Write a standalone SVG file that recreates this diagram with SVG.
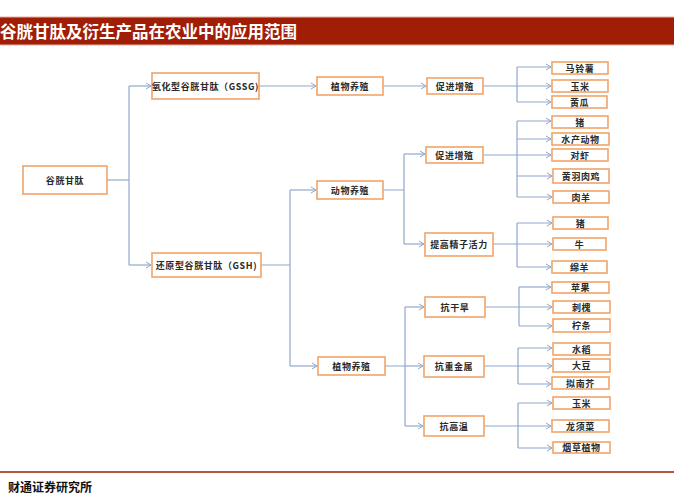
<svg xmlns="http://www.w3.org/2000/svg" width="674" height="496" viewBox="0 0 674 496">
<defs>
<marker id="ah" markerWidth="8" markerHeight="8" refX="6" refY="4" orient="auto" markerUnits="userSpaceOnUse">
<path d="M1,1 L6,4 L1,7" fill="none" stroke="#8FA8CC" stroke-width="1"/>
</marker>
<style>
.b{fill:#fff;stroke:#F2A468;stroke-width:1.6}
.t{font-family:"Noto Sans CJK SC","Noto Sans",sans-serif;font-size:9px;fill:#2a2a2a;text-anchor:middle;dominant-baseline:central;font-weight:bold;letter-spacing:0.6px}
.c{fill:none;stroke:#8FA8CC;stroke-width:1.2}
.a{marker-end:url(#ah)}
</style>
</defs>
<rect x="0" y="0" width="674" height="496" fill="#fff"/>
<rect x="0" y="17" width="674" height="28" fill="#A11E06"/>
<line x1="0" y1="17" x2="674" y2="17" stroke="#E8B0A0" stroke-width="1"/>
<line x1="0" y1="45" x2="674" y2="45" stroke="#E8B0A0" stroke-width="1"/>
<text x="0" y="31" font-family="'Noto Sans CJK SC',sans-serif" font-size="16.5" font-weight="bold" fill="#fff" dominant-baseline="central">谷胱甘肽及衍生产品在农业中的应用范围</text>
<line x1="0" y1="472" x2="674" y2="472" stroke="#A11E06" stroke-width="1.5"/>
<text x="8" y="486" font-family="'Noto Sans CJK SC',sans-serif" font-size="12" font-weight="bold" fill="#111" dominant-baseline="central">财通证券研究所</text>

<g id="connectors">
<path class="c" d="M107,180 H129"/>
<path class="c" d="M129,86 V265"/>
<path class="c a" d="M129,86 H151"/>
<path class="c a" d="M129,265 H151"/>
<path class="c a" d="M259,86 H316"/>
<path class="c a" d="M383,86 H426"/>
<path class="c" d="M483,86 H517 M517,67 V102"/>
<path class="c a" d="M517,67 H551"/>
<path class="c a" d="M517,86 H551"/>
<path class="c a" d="M517,102 H551"/>
<path class="c" d="M261,265 H290 M290,190 V366"/>
<path class="c a" d="M290,190 H316"/>
<path class="c a" d="M290,366 H317"/>
<path class="c" d="M383,190 H404 M404,154 V244"/>
<path class="c a" d="M404,154 H425"/>
<path class="c a" d="M404,244 H424"/>
<path class="c" d="M483,155 H517 M517,121 V197"/>
<path class="c a" d="M517,121 H551"/>
<path class="c a" d="M517,139 H551"/>
<path class="c a" d="M517,155 H551"/>
<path class="c a" d="M517,176 H552"/>
<path class="c a" d="M517,197 H552"/>
<path class="c" d="M493,244 H517 M517,223 V267"/>
<path class="c a" d="M517,223 H552"/>
<path class="c a" d="M517,244 H552"/>
<path class="c a" d="M517,267 H551"/>
<path class="c" d="M385,366 H405 M405,307 V426"/>
<path class="c a" d="M405,307 H424"/>
<path class="c a" d="M405,366 H423"/>
<path class="c a" d="M405,426 H423"/>
<path class="c" d="M485,307 H519 M519,287 V326"/>
<path class="c a" d="M519,287 H551"/>
<path class="c a" d="M519,307 H552"/>
<path class="c a" d="M519,326 H552"/>
<path class="c" d="M484,366 H518 M518,348 V384"/>
<path class="c a" d="M518,348 H552"/>
<path class="c a" d="M518,366 H552"/>
<path class="c a" d="M518,384 H551"/>
<path class="c" d="M484,426 H518 M518,403 V448"/>
<path class="c a" d="M518,403 H552"/>
<path class="c a" d="M518,426 H551"/>
<path class="c a" d="M518,448 H552"/>
</g>

<g id="n-gsh-root"><rect class="b" x="23" y="166" width="84" height="28"/><text class="t" x="65" y="180">谷胱甘肽</text></g>
<g id="n-gssg"><rect class="b" x="152" y="73" width="107" height="26"/><text class="t" x="205.5" y="86" letter-spacing="0">氧化型谷胱甘肽（GSSG)</text></g>
<g id="n-gsh"><rect class="b" x="152" y="253" width="109" height="24"/><text class="t" x="206.5" y="265" letter-spacing="0">还原型谷胱甘肽（GSH)</text></g>
<g id="n-plant1"><rect class="b" x="317" y="77" width="66" height="18"/><text class="t" x="350" y="86">植物养殖</text></g>
<g id="n-promote1"><rect class="b" x="427" y="78" width="56" height="16"/><text class="t" x="455" y="86">促进增殖</text></g>
<g id="n-potato"><rect class="b" x="552" y="62" width="56" height="12"/><text class="t" x="580" y="68">马铃薯</text></g>
<g id="n-corn1"><rect class="b" x="552" y="80" width="56" height="12"/><text class="t" x="580" y="86">玉米</text></g>
<g id="n-cucumber"><rect class="b" x="552" y="96" width="55" height="12"/><text class="t" x="579.5" y="102">黄瓜</text></g>
<g id="n-animal"><rect class="b" x="317" y="181" width="66" height="18"/><text class="t" x="350" y="190">动物养殖</text></g>
<g id="n-promote2"><rect class="b" x="426" y="147" width="57" height="16"/><text class="t" x="454.5" y="155">促进增殖</text></g>
<g id="n-sperm"><rect class="b" x="425" y="233" width="68" height="23"/><text class="t" x="459" y="244.5">提高精子活力</text></g>
<g id="n-pig1"><rect class="b" x="552" y="116" width="56" height="12"/><text class="t" x="580" y="122">猪</text></g>
<g id="n-aqua"><rect class="b" x="552" y="133" width="57" height="12"/><text class="t" x="580.5" y="139">水产动物</text></g>
<g id="n-shrimp"><rect class="b" x="552" y="149" width="56" height="12"/><text class="t" x="580" y="155">对虾</text></g>
<g id="n-chicken"><rect class="b" x="553" y="169" width="56" height="14"/><text class="t" x="581" y="176">黄羽肉鸡</text></g>
<g id="n-mutton"><rect class="b" x="553" y="191" width="56" height="12"/><text class="t" x="581" y="197">肉羊</text></g>
<g id="n-pig2"><rect class="b" x="553" y="217" width="55" height="12"/><text class="t" x="580.5" y="223">猪</text></g>
<g id="n-cattle"><rect class="b" x="553" y="238" width="53" height="12"/><text class="t" x="579.5" y="244">牛</text></g>
<g id="n-sheep"><rect class="b" x="552" y="261" width="55" height="12"/><text class="t" x="579.5" y="267">绵羊</text></g>
<g id="n-plant2"><rect class="b" x="318" y="357" width="67" height="18"/><text class="t" x="351.5" y="366">植物养殖</text></g>
<g id="n-drought"><rect class="b" x="425" y="297" width="60" height="20"/><text class="t" x="455" y="307">抗干旱</text></g>
<g id="n-metal"><rect class="b" x="424" y="356" width="60" height="21"/><text class="t" x="454" y="366.5">抗重金属</text></g>
<g id="n-heat"><rect class="b" x="424" y="416" width="60" height="20"/><text class="t" x="454" y="426">抗高温</text></g>
<g id="n-apple"><rect class="b" x="552" y="282" width="57" height="11"/><text class="t" x="580.5" y="287.5">苹果</text></g>
<g id="n-locust"><rect class="b" x="553" y="301" width="57" height="12"/><text class="t" x="581.5" y="307">刺槐</text></g>
<g id="n-caragana"><rect class="b" x="553" y="319" width="57" height="13"/><text class="t" x="581.5" y="325.5">柠条</text></g>
<g id="n-rice"><rect class="b" x="553" y="343" width="57" height="12"/><text class="t" x="581.5" y="349">水稻</text></g>
<g id="n-soy"><rect class="b" x="553" y="359" width="57" height="13"/><text class="t" x="581.5" y="365.5">大豆</text></g>
<g id="n-arabidopsis"><rect class="b" x="552" y="377" width="57" height="12"/><text class="t" x="580.5" y="383">拟南芥</text></g>
<g id="n-corn2"><rect class="b" x="553" y="397" width="57" height="12"/><text class="t" x="581.5" y="403">玉米</text></g>
<g id="n-seaweed"><rect class="b" x="552" y="420" width="57" height="12"/><text class="t" x="580.5" y="426">龙须菜</text></g>
<g id="n-tobacco"><rect class="b" x="553" y="442" width="57" height="11"/><text class="t" x="581.5" y="447.5">烟草植物</text></g>
</svg>
